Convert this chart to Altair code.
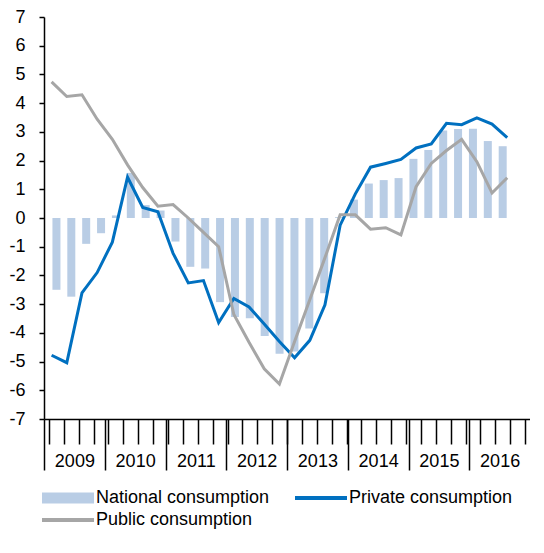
import altair as alt
import numpy as np
import pandas as pd

# ---- data (2009Q1 .. 2016Q3) ----
years = ["2009", "2010", "2011", "2012", "2013", "2014", "2015", "2016"]
quarters = [
    "2009Q1", "2009Q2", "2009Q3", "2009Q4",
    "2010Q1", "2010Q2", "2010Q3", "2010Q4",
    "2011Q1", "2011Q2", "2011Q3", "2011Q4",
    "2012Q1", "2012Q2", "2012Q3", "2012Q4",
    "2013Q1", "2013Q2", "2013Q3", "2013Q4",
    "2014Q1", "2014Q2", "2014Q3", "2014Q4",
    "2015Q1", "2015Q2", "2015Q3", "2015Q4",
    "2016Q1", "2016Q2", "2016Q3",
]
national = [-2.50, -2.74, -0.90, -0.53, 0.09, 1.57, 0.45, 0.26,
            -0.82, -1.70, -1.76, -2.93, -3.45, -3.49, -4.11, -4.73,
            -4.65, -3.85, -2.62, 0.03, 0.64, 1.20, 1.32, 1.39,
            2.06, 2.37, 3.05, 3.10, 3.11, 2.68, 2.50]
private = [-4.78, -5.04, -2.61, -1.90, -0.84, 1.42, 0.37, 0.22,
           -1.23, -2.26, -2.18, -3.64, -2.80, -3.10, -3.69, -4.30,
           -4.87, -4.26, -3.02, -0.25, 0.84, 1.77, 1.90, 2.04,
           2.44, 2.58, 3.30, 3.25, 3.49, 3.27, 2.80]
public = [4.74, 4.23, 4.29, 3.44, 2.74, 1.85, 1.06, 0.41,
          0.47, 0.00, -0.50, -1.00, -3.36, -4.33, -5.25, -5.78,
          -4.30, -2.85, -1.38, 0.11, 0.11, -0.39, -0.34, -0.59,
          1.09, 1.90, 2.35, 2.74, 1.96, 0.87, 1.40]
# legend order (column-major in a 2-column legend): National, Public | Private
series_names = ["National consumption", "Public consumption", "Private consumption"]
series_colors = ["#b9cde5", "#a6a6a6", "#0070c0"]
# legend swatch shapes: wide block for the bars, thin strip for the lines
series_swatches = ["M-1,-0.21H1V0.21H-1Z", "M-1,-0.075H1V0.075H-1Z", "M-1,-0.075H1V0.075H-1Z"]
y_ticks = list(range(-7, 8))

n_slots = len(years) * 4
pos = np.arange(len(quarters)) + 0.5

df_bar = pd.DataFrame({"quarter": quarters, "pos": pos, "value": national,
                       "series": "National consumption"})
df_line = pd.concat([
    pd.DataFrame({"quarter": quarters, "pos": pos, "value": private, "series": "Private consumption"}),
    pd.DataFrame({"quarter": quarters, "pos": pos, "value": public, "series": "Public consumption"}),
])

FONT = "Liberation Sans"
PLOT_W = 486
PLOT_H = 402
YEAR_W = PLOT_W / len(years)

color_scale = alt.Scale(domain=series_names, range=series_colors)
shape_scale = alt.Scale(domain=series_names, range=series_swatches)
legend = alt.Legend(
    title=None, orient="none", legendX=-2, legendY=PLOT_H + 70, columns=2,
    columnPadding=25, rowPadding=4, clipHeight=18, padding=0,
    symbolSize=2704, symbolStrokeWidth=0, symbolOpacity=1, labelOffset=2,
    labelFontSize=18, labelFont=FONT, labelColor="black", labelLimit=400,
)

y_axis = alt.Axis(values=y_ticks, tickSize=5, labelPadding=14, title=None,
                  grid=False, labelFontSize=18, labelFont=FONT, labelOverlap=False,
                  labelExpr="datum.value < 0 ? '-' + abs(datum.value) : '' + datum.value",
                  labelColor="black", domainColor="black", tickColor="black",
                  domainWidth=1.5, tickWidth=1.5)
y_scale = alt.Scale(domain=[-7, 7], nice=False)

x_scale = alt.Scale(domain=[0, n_slots], nice=False, zero=False)

bars = alt.Chart(df_bar).mark_bar(size=8).encode(
    x=alt.X("pos:Q", scale=x_scale,
            axis=alt.Axis(values=list(range(n_slots + 1)), tickSize=25, labels=False,
                          title=None, grid=False, domainColor="black", tickColor="black",
                          domainWidth=1.5, tickWidth=1.5)),
    y=alt.Y("value:Q", scale=y_scale, axis=y_axis),
    color=alt.Color("series:N", scale=color_scale, legend=legend, sort=None),
)

label_expr = "'' + (%s + floor(datum.value / 4))" % years[0]
lines = alt.Chart(df_line).mark_line(strokeWidth=3).encode(
    x=alt.X("pos:Q", scale=x_scale,
            axis=alt.Axis(values=list(range(0, n_slots, 4)), tickSize=51, orient="bottom",
                          labelExpr=label_expr, labelOffset=YEAR_W / 2, labelAlign="center",
                          labelBaseline="alphabetic", labelPadding=-4,
                          labelFontSize=18, labelFont=FONT, labelColor="black",
                          title=None, grid=False, domain=False, tickColor="black",
                          tickWidth=1.5)),
    y=alt.Y("value:Q", scale=y_scale, axis=y_axis),
    color=alt.Color("series:N", scale=color_scale, legend=legend, sort=None),
    order="pos:Q",
)

# empty point layer that only carries the legend swatches (shape + colour)
legend_layer = alt.Chart(df_line).transform_filter("false").mark_point(filled=True, opacity=1).encode(
    x=alt.X("pos:Q", scale=x_scale, axis=None),
    y=alt.Y("value:Q", scale=y_scale, axis=y_axis),
    color=alt.Color("series:N", scale=color_scale, legend=legend, sort=None),
    shape=alt.Shape("series:N", scale=shape_scale, legend=legend, sort=None),
)

chart = alt.layer(bars, lines, legend_layer).resolve_scale(x="independent").properties(
    width=PLOT_W, height=PLOT_H,
    padding={"left": 0, "top": 0, "right": 0, "bottom": 0},
).configure_view(stroke=None)

chart.save("out.html", embed_options={"renderer": "svg", "actions": False})
